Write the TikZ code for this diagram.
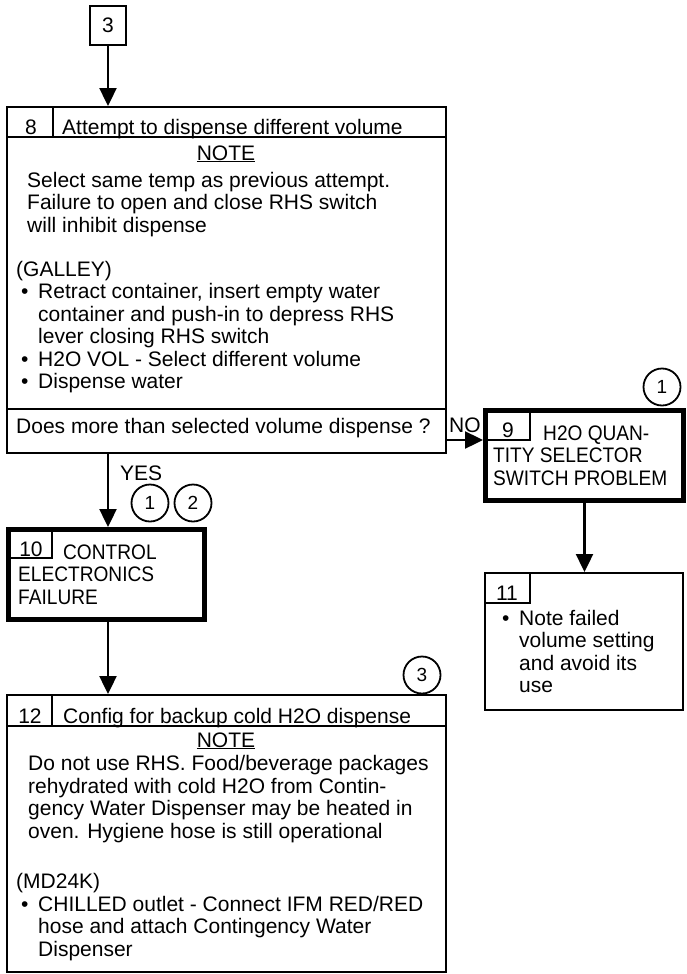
\documentclass[tikz,border=0pt]{standalone}
\usepackage{fontspec}
\setmainfont{Liberation Sans}
\newfontfamily\capsfont[FakeStretch=0.91]{Liberation Sans}
\usepackage{tikz}
\usetikzlibrary{arrows.meta}
\newcommand{\boxfont}{\fontsize{21pt}{22.5pt}\selectfont}
\newcommand{\itembul}{\hspace*{5pt}\makebox[17pt][l]{\textbullet}}
\newcommand{\itemind}{\hspace*{22pt}}

\begin{document}
\begin{tikzpicture}[x=1pt,y=-1pt,>={Triangle[width=17pt,length=18pt]},font=\boxfont,
  stepbox/.style={draw,line width=2pt,inner sep=0pt},
  failbox/.style={draw,line width=5pt,inner sep=0pt},
  txt/.style={anchor=base west,align=left,inner sep=0pt},
  num/.style={anchor=base,inner sep=0pt},
  ref/.style={circle,draw,line width=1.8pt,minimum size=37pt,inner sep=0pt,font=\fontsize{19pt}{19pt}\selectfont},
  flow/.style={->,line width=2.4pt},
  cell/.style={line width=2pt}]
\useasboundingbox (0,0) rectangle (686,974);
\node[stepbox,minimum width=36pt,minimum height=39pt] (n3) at (108,25.5) {3};
\node[stepbox,minimum width=439.5pt,minimum height=346pt] (b8) at (226.25,280) {};
\node[failbox,minimum width=198pt,minimum height=90pt] (b9) at (584.5,455.5) {};
\node[failbox,minimum width=196pt,minimum height=90pt] (b10) at (106.5,574.5) {};
\node[stepbox,minimum width=198pt,minimum height=137pt] (b11) at (584,641.5) {};
\node[stepbox,minimum width=439.5pt,minimum height=277pt] (b12) at (226.25,833.5) {};
\draw[cell] (6.5,137)--(446,137) (53,107)--(53,137) (6.5,409)--(446,409);
\draw[cell] (485.5,440)--(530,440)--(530,410.5);
\draw[cell] (8.5,558)--(52,558)--(52,529.5);
\draw[cell] (485,603)--(530,603)--(530,573);
\draw[cell] (6.5,726)--(446,726) (52,695)--(52,726);
% multi-line texts are placed by their last baseline
\node[num] (h8n) at (31,134) {8};
\node[txt] (h8) at (62,134) {Attempt to dispense different volume};
\node[num] (note8) at (226,160) {\underline{NOTE}};
\node[txt] (n8) at (27,232) {Select same temp as previous attempt.\\Failure to open and close RHS switch\\will inhibit dispense};
\node[txt] (p8) at (16,388.5) {(GALLEY)\\\itembul Retract container, insert empty water\\\itemind container and push-in to depress RHS\\\itemind lever closing RHS switch\\\itembul H2O VOL - Select different volume\\\itembul Dispense water};
\node[txt] (q8) at (16,433) {Does more than selected volume dispense ?};
\node[num] (h9n) at (508,437) {9};
\node[txt,font=\boxfont\capsfont] (t9) at (493,485) {\hspace*{50pt}H2O QUAN-\\TITY SELECTOR\\SWITCH PROBLEM};
\node[num] (h10n) at (31,556) {10};
\node[txt,font=\boxfont\capsfont] (t10) at (18,604) {\hspace*{45pt}CONTROL\\ELECTRONICS\\FAILURE};
\node[num] (h11n) at (507,600) {11};
\node[txt] (t11) at (497,692.5) {\itembul Note failed\\\itemind volume setting\\\itemind and avoid its\\\itemind use};
\node[num] (h12n) at (30,723) {12};
\node[txt] (h12) at (63,723) {Config for backup cold H2O dispense};
\node[num] (note12) at (226,747) {\underline{NOTE}};
\node[txt] (n12) at (28,838) {Do not use RHS.  Food/beverage packages\\rehydrated with cold H2O from Contin-\\gency Water Dispenser may be heated in\\oven.  Hygiene hose is still operational};
\node[txt] (p12) at (16,956) {(MD24K)\\\itembul CHILLED outlet - Connect IFM RED/RED\\\itemind hose and attach Contingency Water\\\itemind Dispenser};
\node[txt] (yes) at (120,480) {YES};
\node[txt] (no) at (449,432) {NO};
\node[ref] (c9) at (662,387) {1};
\node[ref] (c10a) at (150,503) {1};
\node[ref] (c10b) at (193,503) {2};
\node[ref] (c12) at (422,675) {3};
\coordinate (noy) at (0,440);
\draw[flow] (n3) -- (n3 |- b8.north);
\draw[flow] (b8.south -| n3) -- (b10.north -| n3);
\draw[flow] (b8.east |- noy) -- (b9.west |- noy);
\draw[flow] (b9.south) -- (b9.south |- b11.north);
\draw[flow] (b10.south -| n3) -- (b12.north -| n3);
\end{tikzpicture}
\end{document}
